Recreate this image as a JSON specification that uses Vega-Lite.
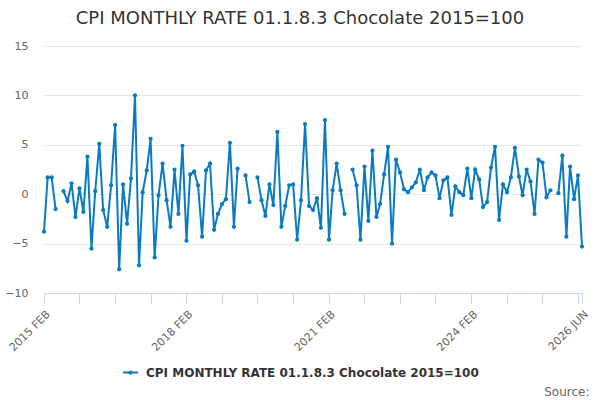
{
  "$schema": "https://vega.github.io/schema/vega-lite/v6.json",
  "width": 538,
  "height": 247,
  "autosize": {"type": "none"},
  "padding": {"left": 44, "top": 46, "right": 18, "bottom": 107},
  "background": "white",
  "title": {
    "text": "CPI MONTHLY RATE 01.1.8.3 Chocolate 2015=100",
    "fontSize": 18,
    "fontWeight": "normal",
    "color": "#333333",
    "anchor": "middle",
    "dx": -13,
    "offset": 12
  },
  "data": {
    "values": [
      {"date": "2015-02-01", "value": -3.8},
      {"date": "2015-03-01", "value": 1.7},
      {"date": "2015-04-01", "value": 1.7},
      {"date": "2015-05-01", "value": -1.5},
      {"date": "2015-06-01", "value": null},
      {"date": "2015-07-01", "value": 0.3},
      {"date": "2015-08-01", "value": -0.7},
      {"date": "2015-09-01", "value": 1.1},
      {"date": "2015-10-01", "value": -2.3},
      {"date": "2015-11-01", "value": 0.6},
      {"date": "2015-12-01", "value": -1.8},
      {"date": "2016-01-01", "value": 3.8},
      {"date": "2016-02-01", "value": -5.5},
      {"date": "2016-03-01", "value": 0.3},
      {"date": "2016-04-01", "value": 5.1},
      {"date": "2016-05-01", "value": -1.6},
      {"date": "2016-06-01", "value": -3.3},
      {"date": "2016-07-01", "value": 0.9},
      {"date": "2016-08-01", "value": 7.0},
      {"date": "2016-09-01", "value": -7.6},
      {"date": "2016-10-01", "value": 1.0},
      {"date": "2016-11-01", "value": -3.0},
      {"date": "2016-12-01", "value": 1.6},
      {"date": "2017-01-01", "value": 10.0},
      {"date": "2017-02-01", "value": -7.2},
      {"date": "2017-03-01", "value": 0.2},
      {"date": "2017-04-01", "value": 2.4},
      {"date": "2017-05-01", "value": 5.6},
      {"date": "2017-06-01", "value": -6.4},
      {"date": "2017-07-01", "value": -0.1},
      {"date": "2017-08-01", "value": 3.1},
      {"date": "2017-09-01", "value": -0.6},
      {"date": "2017-10-01", "value": -3.3},
      {"date": "2017-11-01", "value": 2.5},
      {"date": "2017-12-01", "value": -2.0},
      {"date": "2018-01-01", "value": 4.9},
      {"date": "2018-02-01", "value": -4.7},
      {"date": "2018-03-01", "value": 2.0},
      {"date": "2018-04-01", "value": 2.3},
      {"date": "2018-05-01", "value": 0.9},
      {"date": "2018-06-01", "value": -4.3},
      {"date": "2018-07-01", "value": 2.4},
      {"date": "2018-08-01", "value": 3.1},
      {"date": "2018-09-01", "value": -3.6},
      {"date": "2018-10-01", "value": -2.0},
      {"date": "2018-11-01", "value": -1.0},
      {"date": "2018-12-01", "value": -0.5},
      {"date": "2019-01-01", "value": 5.2},
      {"date": "2019-02-01", "value": -3.3},
      {"date": "2019-03-01", "value": 2.6},
      {"date": "2019-04-01", "value": null},
      {"date": "2019-05-01", "value": 1.9},
      {"date": "2019-06-01", "value": -0.8},
      {"date": "2019-07-01", "value": null},
      {"date": "2019-08-01", "value": 1.7},
      {"date": "2019-09-01", "value": -0.6},
      {"date": "2019-10-01", "value": -2.2},
      {"date": "2019-11-01", "value": 1.0},
      {"date": "2019-12-01", "value": -1.1},
      {"date": "2020-01-01", "value": 6.3},
      {"date": "2020-02-01", "value": -3.3},
      {"date": "2020-03-01", "value": -1.2},
      {"date": "2020-04-01", "value": 0.9},
      {"date": "2020-05-01", "value": 1.0},
      {"date": "2020-06-01", "value": -4.6},
      {"date": "2020-07-01", "value": -0.6},
      {"date": "2020-08-01", "value": 7.1},
      {"date": "2020-09-01", "value": -1.2},
      {"date": "2020-10-01", "value": -1.6},
      {"date": "2020-11-01", "value": -0.4},
      {"date": "2020-12-01", "value": -3.4},
      {"date": "2021-01-01", "value": 7.5},
      {"date": "2021-02-01", "value": -4.6},
      {"date": "2021-03-01", "value": 0.4},
      {"date": "2021-04-01", "value": 3.1},
      {"date": "2021-05-01", "value": 0.4},
      {"date": "2021-06-01", "value": -2.0},
      {"date": "2021-07-01", "value": null},
      {"date": "2021-08-01", "value": 2.5},
      {"date": "2021-09-01", "value": 0.9},
      {"date": "2021-10-01", "value": -4.6},
      {"date": "2021-11-01", "value": 2.8},
      {"date": "2021-12-01", "value": -2.7},
      {"date": "2022-01-01", "value": 4.4},
      {"date": "2022-02-01", "value": -2.3},
      {"date": "2022-03-01", "value": -1.0},
      {"date": "2022-04-01", "value": 2.0},
      {"date": "2022-05-01", "value": 4.8},
      {"date": "2022-06-01", "value": -5.0},
      {"date": "2022-07-01", "value": 3.5},
      {"date": "2022-08-01", "value": 2.2},
      {"date": "2022-09-01", "value": 0.5},
      {"date": "2022-10-01", "value": 0.2},
      {"date": "2022-11-01", "value": 0.7},
      {"date": "2022-12-01", "value": 1.2},
      {"date": "2023-01-01", "value": 2.5},
      {"date": "2023-02-01", "value": 0.4},
      {"date": "2023-03-01", "value": 1.7},
      {"date": "2023-04-01", "value": 2.2},
      {"date": "2023-05-01", "value": 1.9},
      {"date": "2023-06-01", "value": -0.4},
      {"date": "2023-07-01", "value": 1.4},
      {"date": "2023-08-01", "value": 1.7},
      {"date": "2023-09-01", "value": -2.1},
      {"date": "2023-10-01", "value": 0.8},
      {"date": "2023-11-01", "value": 0.2},
      {"date": "2023-12-01", "value": -0.1},
      {"date": "2024-01-01", "value": 2.6},
      {"date": "2024-02-01", "value": -0.4},
      {"date": "2024-03-01", "value": 2.5},
      {"date": "2024-04-01", "value": 1.5},
      {"date": "2024-05-01", "value": -1.3},
      {"date": "2024-06-01", "value": -0.8},
      {"date": "2024-07-01", "value": 2.7},
      {"date": "2024-08-01", "value": 4.8},
      {"date": "2024-09-01", "value": -2.6},
      {"date": "2024-10-01", "value": 1.0},
      {"date": "2024-11-01", "value": 0.2},
      {"date": "2024-12-01", "value": 1.7},
      {"date": "2025-01-01", "value": 4.7},
      {"date": "2025-02-01", "value": 1.8},
      {"date": "2025-03-01", "value": -0.1},
      {"date": "2025-04-01", "value": 2.5},
      {"date": "2025-05-01", "value": 1.3},
      {"date": "2025-06-01", "value": -2.0},
      {"date": "2025-07-01", "value": 3.5},
      {"date": "2025-08-01", "value": 3.2},
      {"date": "2025-09-01", "value": -0.3},
      {"date": "2025-10-01", "value": 0.4},
      {"date": "2025-11-01", "value": null},
      {"date": "2025-12-01", "value": 0.1},
      {"date": "2026-01-01", "value": 3.9},
      {"date": "2026-02-01", "value": -4.3},
      {"date": "2026-03-01", "value": 2.8},
      {"date": "2026-04-01", "value": -0.5},
      {"date": "2026-05-01", "value": 1.9},
      {"date": "2026-06-01", "value": -5.3}
    ]
  },
  "mark": {
    "type": "line",
    "strokeWidth": 2,
    "invalid": "break-paths-show-domains",
    "point": {"filled": true, "size": 18}
  },
  "encoding": {
    "x": {
      "field": "date",
      "type": "temporal",
      "scale": {
        "type": "utc",
        "nice": false,
        "domain": [
          {"year": 2015, "month": 2, "date": 1, "utc": true},
          {"year": 2026, "month": 6, "date": 1, "utc": true}
        ]
      },
      "axis": {
        "title": "Source:",
        "titleX": 545,
        "titleY": 102,
        "titleAlign": "right",
        "titleAnchor": null,
        "titleBaseline": "alphabetic",
        "titleFontSize": 12,
        "titleFontWeight": "normal",
        "titleColor": "#666666",
        "values": [
          {"year": 2015, "month": 2, "date": 1, "utc": true},
          {"year": 2015, "month": 11, "date": 1, "utc": true},
          {"year": 2016, "month": 8, "date": 1, "utc": true},
          {"year": 2017, "month": 5, "date": 1, "utc": true},
          {"year": 2018, "month": 2, "date": 1, "utc": true},
          {"year": 2018, "month": 11, "date": 1, "utc": true},
          {"year": 2019, "month": 8, "date": 1, "utc": true},
          {"year": 2020, "month": 5, "date": 1, "utc": true},
          {"year": 2021, "month": 2, "date": 1, "utc": true},
          {"year": 2021, "month": 11, "date": 1, "utc": true},
          {"year": 2022, "month": 8, "date": 1, "utc": true},
          {"year": 2023, "month": 5, "date": 1, "utc": true},
          {"year": 2024, "month": 2, "date": 1, "utc": true},
          {"year": 2024, "month": 11, "date": 1, "utc": true},
          {"year": 2025, "month": 8, "date": 1, "utc": true},
          {"year": 2026, "month": 5, "date": 1, "utc": true},
          {"year": 2026, "month": 6, "date": 1, "utc": true}
        ],
        "labelExpr": "(utcmonth(datum.value) == 1 && (utcyear(datum.value) - 2015) % 3 == 0) || (utcyear(datum.value) == 2026 && utcmonth(datum.value) == 5) ? upper(utcFormat(datum.value, '%Y %b')) : ''",
        "labelAngle": -45,
        "labelFontSize": 11,
        "labelColor": "#666666",
        "labelOverlap": false,
        "labelBound": false,
        "labelFlush": false,
        "labelPadding": 5,
        "domainColor": "#ccd6eb",
        "tickColor": "#ccd6eb",
        "tickSize": 10,
        "grid": false
      }
    },
    "y": {
      "field": "value",
      "type": "quantitative",
      "scale": {"domain": [-10, 15], "nice": false},
      "axis": {
        "title": null,
        "values": [-10, -5, 0, 5, 10, 15],
        "domain": false,
        "ticks": false,
        "labelPadding": 16,
        "labelFontSize": 11,
        "labelColor": "#666666",
        "gridColor": "#e6e6e6"
      }
    },
    "color": {
      "datum": "CPI MONTHLY RATE 01.1.8.3 Chocolate 2015=100",
      "scale": {"range": ["#0a7bbf"]},
      "legend": {
        "orient": "none",
        "legendX": 78,
        "legendY": 318,
        "title": null,
        "labelFontSize": 12,
        "labelFontWeight": "bold",
        "labelColor": "#333333",
        "labelOffset": 7,
        "labelLimit": 0,
        "symbolType": "M-1,0L1,0M-0.15,0A0.15,0.15 0 1,1 0.15,0A0.15,0.15 0 1,1 -0.15,0",
        "symbolSize": 225,
        "symbolStrokeWidth": 2
      }
    }
  },
  "config": {
    "font": "DejaVu Sans",
    "view": {"stroke": null}
  }
}
